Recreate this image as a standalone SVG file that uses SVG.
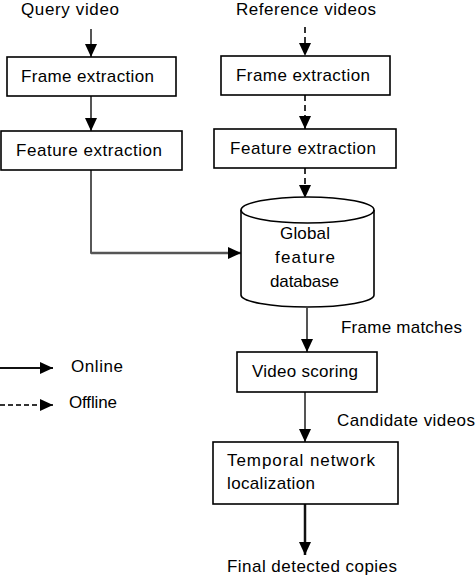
<svg xmlns="http://www.w3.org/2000/svg" width="476" height="576" viewBox="0 0 476 576">
<defs>
<style>
text{font-family:"Liberation Sans",Arial,sans-serif;font-size:17px;fill:#000}
.box{fill:#fff;stroke:#000;stroke-width:1.6}
.ln{fill:none;stroke:#555;stroke-width:2}
.lk{fill:none;stroke:#111;stroke-width:2}
.dash{fill:none;stroke:#333;stroke-width:2;stroke-dasharray:6,4}
</style>
<marker id="ah" markerUnits="userSpaceOnUse" markerWidth="14" markerHeight="12" viewBox="0 0 14 12" refX="13" refY="6" orient="auto">
<path d="M0,0 L13,6 L0,12 Z" fill="#000"/>
</marker>
</defs>
<rect width="476" height="576" fill="#fff"/>
<g id="connectors">
<line class="ln" x1="91" y1="29" x2="91" y2="57" marker-end="url(#ah)"/>
<line class="ln" x1="91" y1="96" x2="91" y2="131" marker-end="url(#ah)"/>
<polyline class="lk" points="91,170 91,253 92,253" style="stroke-width:1.4"/>
<line class="ln" x1="91" y1="253" x2="241" y2="253" marker-end="url(#ah)" style="stroke-width:2.5"/>
<line class="dash" x1="305" y1="27" x2="305" y2="56" marker-end="url(#ah)"/>
<line class="dash" x1="305" y1="95" x2="305" y2="129" marker-end="url(#ah)"/>
<line class="dash" x1="305" y1="168" x2="305" y2="198" marker-end="url(#ah)"/>
<line class="ln" x1="307" y1="308" x2="307" y2="352" marker-end="url(#ah)"/>
<line class="ln" x1="305" y1="392" x2="305" y2="442" marker-end="url(#ah)"/>
<line class="lk" x1="305" y1="504" x2="305" y2="555" marker-end="url(#ah)" style="stroke-width:2.5"/>
</g>
<g id="legend">
<line class="lk" x1="0" y1="368" x2="53" y2="368" marker-end="url(#ah)"/>
<text x="71" y="372" textLength="52">Online</text>
<line class="dash" x1="0" y1="405" x2="53" y2="405" marker-end="url(#ah)" style="stroke-dasharray:5,3"/>
<text x="69" y="408" textLength="48">Offline</text>
</g>
<g id="query-video"><text x="21" y="15" textLength="98">Query video</text></g>
<g id="reference-videos"><text x="236" y="15" textLength="140">Reference videos</text></g>
<g id="frame-extraction-left">
<rect class="box" x="7" y="57" width="169" height="39"/>
<text x="21" y="82" textLength="133">Frame extraction</text>
</g>
<g id="feature-extraction-left">
<rect class="box" x="1" y="131" width="181" height="39"/>
<text x="16" y="156" textLength="146">Feature extraction</text>
</g>
<g id="frame-extraction-right">
<rect class="box" x="221" y="56" width="169" height="39"/>
<text x="236" y="81" textLength="134">Frame extraction</text>
</g>
<g id="feature-extraction-right">
<rect class="box" x="214" y="129" width="182" height="39"/>
<text x="230" y="154" textLength="146">Feature extraction</text>
</g>
<g id="global-feature-database">
<path class="box" d="M241,210 L241,295 A66.5,12 0 0 0 374,295 L374,210 A66.5,13 0 0 0 241,210 Z"/>
<path class="box" d="M241,210 A66.5,13 0 0 0 374,210" style="fill:none"/>
<text x="280" y="239" textLength="50">Global</text>
<text x="275" y="263" textLength="60">feature</text>
<text x="270" y="287" textLength="69">database</text>
</g>
<g id="frame-matches"><text x="341" y="333" textLength="121">Frame matches</text></g>
<g id="video-scoring">
<rect class="box" x="237" y="352" width="140" height="40"/>
<text x="252" y="377" textLength="106">Video scoring</text>
</g>
<g id="candidate-videos"><text x="337" y="426" textLength="138">Candidate videos</text></g>
<g id="temporal-network-localization">
<rect class="box" x="213" y="442" width="185" height="62"/>
<text x="227" y="466" textLength="148">Temporal network</text>
<text x="227" y="489" textLength="88">localization</text>
</g>
<g id="final-detected-copies"><text x="227" y="572" textLength="170">Final detected copies</text></g>
</svg>
